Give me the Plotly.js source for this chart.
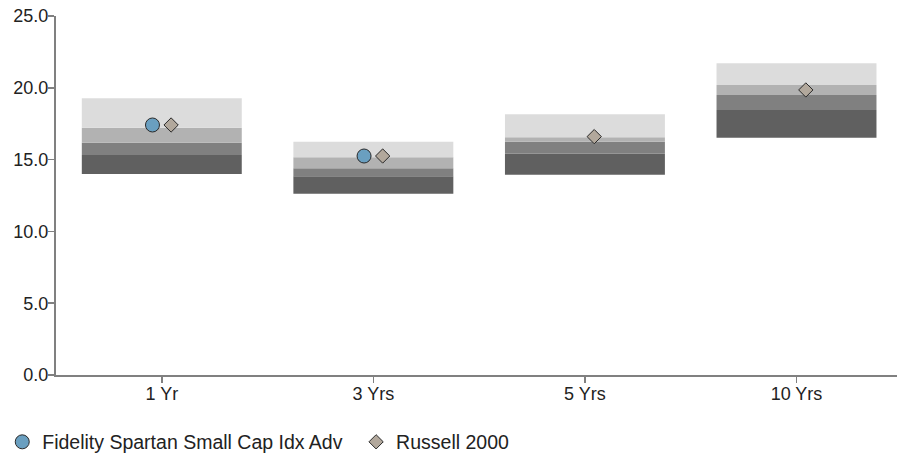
<!DOCTYPE html>
<html>
<head>
<meta charset="utf-8">
<script src="https://cdn.plot.ly/plotly-3.0.1.min.js"></script>
<style>html,body{margin:0;padding:0;background:#fff;}#chart{width:897px;height:453px;}</style>
</head>
<body>
<div id="chart"></div>
<script>
// Categories (trailing periods)
const categories = ["1 Yr", "3 Yrs", "5 Yrs", "10 Yrs"];
// Peer-group band boundaries (bottom to top)
const bandBottom = [14.00, 12.63, 13.95, 16.53];
const band25     = [15.32, 13.84, 15.41, 18.45];
const band50     = [16.18, 14.39, 16.25, 19.50];
const band75     = [17.22, 15.16, 16.55, 20.19];
const bandTop    = [19.27, 16.25, 18.15, 21.71];
// Series
const fundName = "Fidelity Spartan Small Cap Idx Adv";
const fundValues = [17.41, 15.25, null, null];
const indexName = "Russell 2000";
const indexValues = [17.41, 15.25, 16.60, 19.85];
const yTickValues = [0, 5, 10, 15, 20, 25];

const idx = categories.map((c, i) => i);
const bounds = [bandBottom, band25, band50, band75, bandTop];
const bandColors = ["#606060", "#808080", "#b2b2b2", "#dcdcdc"];
const boxWidth = 0.756;
const markerShift = 0.044;

const traces = [];
for (let b = 0; b < 4; b++) {
  traces.push({
    type: "bar",
    x: idx,
    base: bounds[b],
    y: bounds[b].map((v, i) => bounds[b + 1][i] - v),
    width: boxWidth,
    marker: {color: bandColors[b], line: {width: 0}},
    showlegend: false,
    hoverinfo: "skip"
  });
}
traces.push({
  type: "scatter", mode: "markers", name: fundName, legend: "legend",
  x: idx.map(i => i - markerShift), y: fundValues,
  marker: {symbol: "circle", size: 14, color: "#6a9fc0", line: {color: "#2a2a2a", width: 1}},
  hoverinfo: "skip"
});
traces.push({
  type: "scatter", mode: "markers", name: indexName, legend: "legend2",
  x: idx.map(i => i + markerShift), y: indexValues,
  marker: {symbol: "diamond", size: 11, color: "#b2a89c", line: {color: "#2a2a2a", width: 1}},
  hoverinfo: "skip"
});

const font = {family: "Liberation Sans, Arial, sans-serif", size: 18, color: "#222"};
const legendFont = {family: "Liberation Sans, Arial, sans-serif", size: 19.5, color: "#222"};
const layout = {
  width: 897, height: 453,
  margin: {l: 56, r: 0, t: 16, b: 78},
  paper_bgcolor: "#fff", plot_bgcolor: "#fff",
  font: font,
  barmode: "overlay",
  showlegend: true,
  xaxis: {
    range: [-0.5, 3.475], tickmode: "array", tickvals: idx, ticktext: categories,
    showgrid: false, zeroline: false, showline: true, linecolor: "#808080", linewidth: 2,
    ticks: "outside", ticklen: 6, tickcolor: "#808080", tickwidth: 1.5,
    ticklabelstandoff: -5,
    tickfont: font, fixedrange: true
  },
  yaxis: {
    range: [0, 25], tickvals: yTickValues, tickformat: ".1f",
    showgrid: false, zeroline: false, showline: true, linecolor: "#808080", linewidth: 2,
    ticks: "outside", ticklen: 6, tickcolor: "#808080", tickwidth: 1.5,
    ticklabelstandoff: -4,
    tickfont: font, fixedrange: true
  },
  legend: {
    orientation: "h", xref: "container", yref: "container",
    x: 0.0025, y: 0.067, xanchor: "left", yanchor: "top",
    font: legendFont, bgcolor: "rgba(0,0,0,0)"
  },
  legend2: {
    orientation: "h", xref: "container", yref: "container",
    x: 0.397, y: 0.067, xanchor: "left", yanchor: "top",
    font: legendFont, bgcolor: "rgba(0,0,0,0)"
  }
};
Plotly.newPlot("chart", traces, layout, {displayModeBar: false, staticPlot: true});
</script>
</body>
</html>
